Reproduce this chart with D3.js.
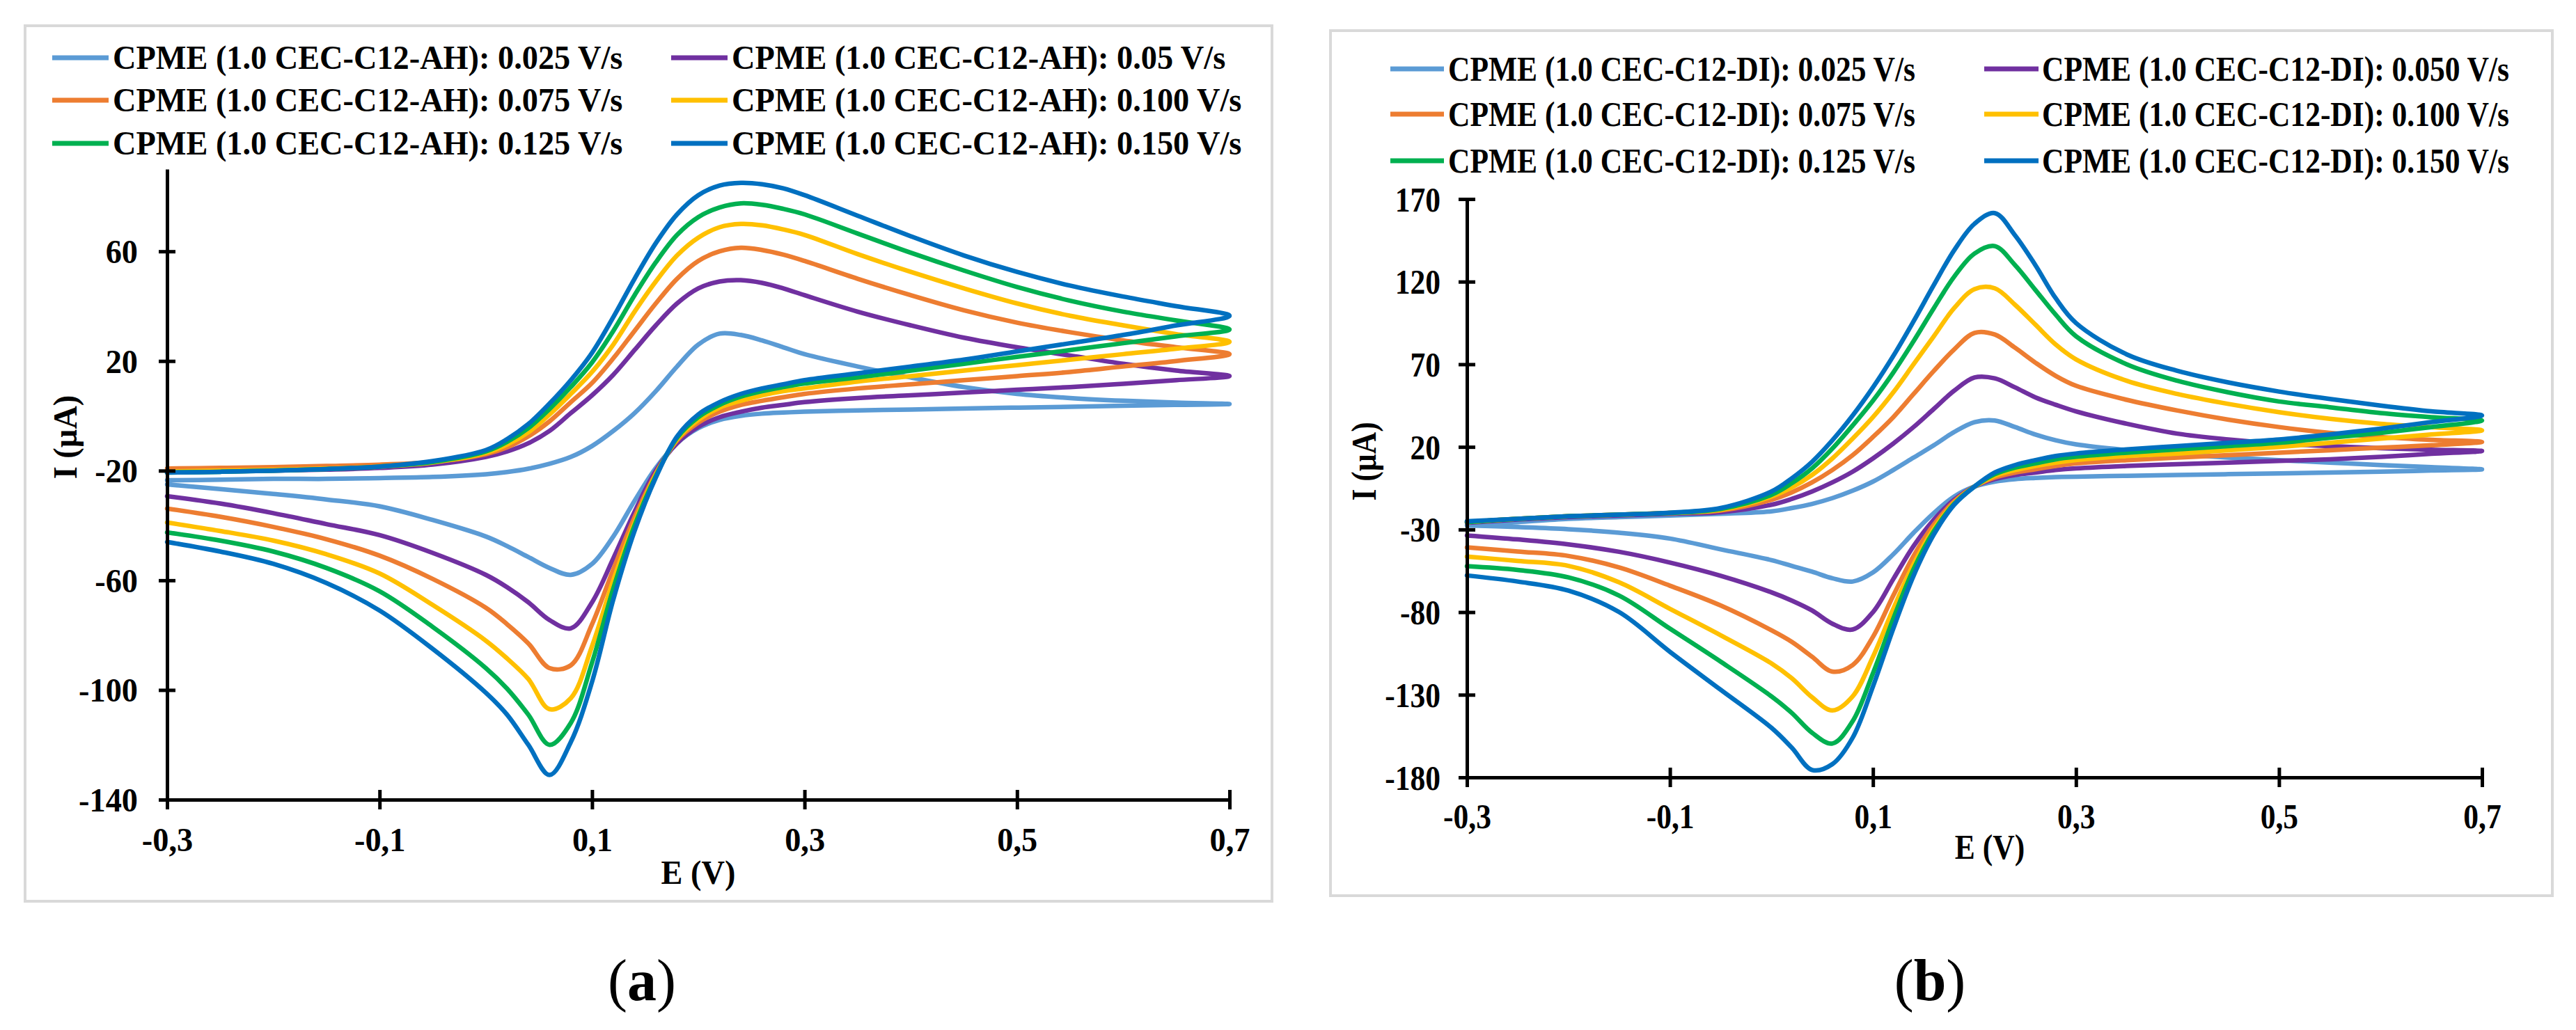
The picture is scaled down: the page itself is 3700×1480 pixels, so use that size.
<!DOCTYPE html>
<html>
<head>
<meta charset="utf-8">
<script src="https://cdn.jsdelivr.net/npm/d3@7"></script>
<style>
    body { margin: 0; background: #fff; }
    text { font-family: "Liberation Serif", "Times New Roman", serif; }
</style>
</head>
<body>
<script>
// potential grid (V), shared by every scan branch
const potential = [-0.30, -0.25, -0.20, -0.15, -0.10, -0.05, 0.00, 0.02, 0.04, 0.06, 0.08, 0.10, 0.12, 0.14, 0.16, 0.18,
    0.20, 0.22, 0.24, 0.26, 0.28, 0.30, 0.35, 0.40, 0.45, 0.50, 0.55, 0.60, 0.65, 0.70];

const colors = ["#5b9bd5", "#7030a0", "#ed7d31", "#ffc000", "#00b050", "#0070c0"];

const namesA = [
    "CPME (1.0 CEC-C12-AH): 0.025 V/s", "CPME (1.0 CEC-C12-AH): 0.05 V/s",
    "CPME (1.0 CEC-C12-AH): 0.075 V/s", "CPME (1.0 CEC-C12-AH): 0.100 V/s",
    "CPME (1.0 CEC-C12-AH): 0.125 V/s", "CPME (1.0 CEC-C12-AH): 0.150 V/s",
];
const namesB = [
    "CPME (1.0 CEC-C12-DI): 0.025 V/s", "CPME (1.0 CEC-C12-DI): 0.050 V/s",
    "CPME (1.0 CEC-C12-DI): 0.075 V/s", "CPME (1.0 CEC-C12-DI): 0.100 V/s",
    "CPME (1.0 CEC-C12-DI): 0.125 V/s", "CPME (1.0 CEC-C12-DI): 0.150 V/s",
];

const xTicks = [-0.3, -0.1, 0.1, 0.3, 0.5, 0.7];
const yTicksA = [-140, -100, -60, -20, 20, 60];
const yTicksB = [-180, -130, -80, -30, 20, 70, 120, 170];

// (a) forward scan, I (uA)
const a025Fwd = [-23.5, -23.3, -23, -23, -22.7, -22.3, -21.3, -20.5, -19.3, -17.5, -15, -11, -5.5, 1, 9, 18, 26, 30, 29.5, 27.5, 25, 22.5, 18, 14, 10.5, 8, 6.5, 5.5, 4.8, 4.3];
const a050Fwd = [-20.5, -20.3, -20, -19.6, -19, -17.8, -15, -13, -10, -5.5, 1, 7.5, 15, 24, 33, 41, 46.5, 49, 49.5, 48.5, 46.5, 44, 38, 33, 28.5, 25, 22, 19, 16.5, 14.5];
const a075Fwd = [-19.2, -19, -18.7, -18.3, -17.8, -16.8, -14, -11.5, -7.5, -2, 5, 12, 21, 31, 41, 50, 56.5, 60, 61.3, 60.5, 58.8, 56.5, 50, 44, 38.5, 34, 30.5, 27.5, 25, 22.5];
const a100Fwd = [-20.3, -20, -19.7, -19.2, -18.5, -17, -13.5, -10.5, -6, 0.5, 8, 16, 26, 38, 49, 58.5, 65, 68.8, 70, 69.5, 68, 66, 59, 52.5, 46.5, 41, 36.5, 33, 29.8, 27];
const a125Fwd = [-20.7, -20.4, -20, -19.4, -18.5, -16.8, -13, -9.5, -4.5, 2.5, 10.5, 19.5, 31, 44, 56, 66, 72.5, 76, 77.5, 77, 75.5, 73.5, 66.5, 59.5, 53, 47, 42, 38, 34.8, 31.5];
const a150Fwd = [-20.7, -20.4, -20, -19.4, -18.5, -16.5, -12.5, -8.5, -3, 4.5, 13, 23, 36, 50, 63, 73.5, 80.5, 84, 85, 84.5, 83, 80.5, 73, 65.5, 58.5, 52.5, 47.5, 43.5, 40, 36.5];

// (a) reverse scan, same grid
const a025Rev = [-25, -26.7, -28.5, -30.5, -33, -38, -44, -47.5, -51.5, -55.5, -58, -54, -44, -31, -19, -10, -4.5, -1.5, 0, 0.8, 1.2, 1.5, 2, 2.3, 2.7, 3, 3.3, 3.7, 4, 4.3];
const a050Rev = [-29.3, -32, -35.5, -39.5, -43.5, -50, -58, -62.5, -68, -74.5, -77.5, -68, -52, -35, -20, -10, -4, -0.5, 1.5, 3, 4, 5, 6.5, 7.5, 8.5, 9.5, 10.5, 11.7, 13, 14.5];
const a075Rev = [-33.8, -36.8, -40.5, -45, -51, -59.5, -70, -76, -83, -92, -91, -76, -56, -37, -21, -9, -2.5, 1.5, 4, 5.5, 6.8, 8, 10, 11.5, 13, 14.5, 16, 18, 20, 22.5];
const a100Rev = [-38.9, -42, -45.5, -50.5, -57.5, -69, -82, -88.5, -96, -107, -103, -84, -60, -39, -21.5, -8.5, -1.5, 3, 5.5, 7.5, 9, 10, 12.5, 14.5, 16.5, 18.5, 20.5, 22.5, 24.5, 27];
const a125Rev = [-42.5, -45.5, -49.5, -55.5, -64, -77, -92, -99.5, -109, -120, -112, -90, -63, -40, -22, -8, -0.5, 4, 7, 9, 10.5, 11.8, 14, 16.5, 19, 21.5, 24, 26.5, 29, 31.5];
const a150Rev = [-46, -49.5, -54, -61, -71, -85, -101, -109, -120, -131, -119, -97, -67, -42, -22.5, -7.5, 0.5, 5, 8, 10, 11.5, 13, 15.5, 18, 20.5, 23.5, 26.5, 29.5, 33, 36.5];

// (b) forward scan
const b025Fwd = [-27.5, -25.5, -23.5, -22.5, -21.5, -20.5, -19, -17, -14.5, -11, -6.5, -1, 6, 13.5, 21, 29, 35, 36, 32, 27.5, 24, 21.5, 18, 15.5, 13.5, 12, 10.5, 9, 7.7, 6.4];
const b050Fwd = [-26, -24, -22.5, -21.5, -20.5, -19.5, -15, -11.5, -7, -1.5, 5, 13, 22, 32, 43, 54, 62, 61.5, 56, 50, 45.5, 41.5, 34, 28, 24.5, 22, 20.5, 19.2, 18.3, 17.5];
const b075Fwd = [-25.5, -23.5, -22, -21, -20, -18.5, -12, -7.5, -1.5, 6, 15, 26, 38, 52, 66, 79, 89, 88, 80, 71, 63, 57, 48.5, 42, 36.5, 32, 28.5, 26, 24.3, 23];
const b100Fwd = [-25.5, -23.5, -22, -21, -20, -18, -10, -4.5, 3, 13, 25, 38, 53, 70, 87, 104, 115.5, 116, 106, 94, 82, 73, 60, 52, 46, 41, 37, 34, 32, 30];
const b125Fwd = [-25.5, -23.5, -22, -21, -20, -17.5, -9, -2, 7, 19, 33, 48, 65, 84, 104, 123, 137, 141.5, 130, 115, 100, 87, 70, 60, 53, 47.5, 44, 40.5, 38, 36];
const b150Fwd = [-25, -23.5, -22, -21, -19.8, -17, -7, 1, 11, 24, 39, 56, 75, 96, 118, 139, 155, 161.5, 148, 130, 110, 95, 76, 66, 59, 53.5, 49, 45, 41.5, 39];

// (b) reverse scan
const b025Rev = [-27.5, -28.5, -29.8, -32, -35.5, -42, -48.5, -52, -55.5, -59.5, -61.5, -56, -45, -32, -20, -10, -4, -1, 0.5, 1.2, 1.7, 2, 2.5, 3, 3.5, 4, 4.5, 5, 5.7, 6.4];
const b050Rev = [-33.6, -36, -39, -43.5, -50, -58, -68, -73, -79, -87, -90.5, -80, -60, -40, -24, -12, -4, 0.5, 3, 4.5, 6, 7, 8.5, 9.5, 10.5, 11.5, 12.5, 14, 15.8, 17.5];
const b075Rev = [-40.8, -43.3, -46, -53, -64, -76, -91, -98, -107, -116, -112, -95, -70, -46, -27, -13, -4, 1.5, 4.5, 6.5, 8.5, 10, 12, 13.5, 15, 16.5, 18, 19.5, 21, 23];
const b100Rev = [-46.4, -49, -52, -62, -78, -94, -111, -120, -131.5, -139.5, -131, -107, -78, -51, -29.5, -14, -4, 2.5, 6, 8.5, 10.5, 12, 14.5, 16, 18, 20, 22.5, 25, 27.5, 30];
const b125Rev = [-52.2, -54.5, -59, -70, -90, -110, -131, -141, -153, -159.5, -146, -117, -84, -54, -31, -14.5, -4, 3.5, 7.5, 10, 12.5, 14, 16.5, 18.5, 20.5, 22.5, 25.5, 28.5, 32, 36];
const b150Rev = [-57.8, -61.5, -67, -80, -104, -127, -150, -162, -175.5, -172, -156, -125, -90, -58, -33, -15, -4, 4.5, 9, 12, 14.5, 16, 18.5, 20.5, 22.5, 24.5, 27.5, 31, 35, 39];

// one loop per scan rate: forward to 0.7 V, then back to -0.3 V
const loop = (fwd, rev) => {
    const out = potential.map((e, i) => ({ e, i: fwd[i] }));
    for (let k = potential.length - 2; k >= 0; k--) out.push({ e: potential[k], i: rev[k] });
    return out;
};

const squeeze = (sel, sx) => sel.each(function () {
    const t = d3.select(this);
    const x = +t.attr("x") || 0;
    const y = +t.attr("y") || 0;
    const r = t.attr("data-rot");
    t.attr("transform", `translate(${x},${y})${r ? ` rotate(${r})` : ""} scale(${sx},1)`)
        .attr("x", 0)
        .attr("y", 0);
});

const W = 3700;
const H = 1480;

const svg = d3.select("body").append("svg")
    .attr("width", W)
    .attr("height", H);

const drawPanel = (p) => {
    const g = svg.append("g");

    g.append("rect")
        .attr("x", p.frame[0])
        .attr("y", p.frame[1])
        .attr("width", p.frame[2] - p.frame[0])
        .attr("height", p.frame[3] - p.frame[1])
        .attr("fill", "#fff")
        .attr("stroke", "#d9d9d9")
        .attr("stroke-width", 4);

    const x = d3.scaleLinear().domain([-0.3, 0.7]).range([p.x0, p.x1]);
    const y = d3.scaleLinear().domain(p.yDomain).range([p.yBot, p.yTop]);

    const line = d3.line()
        .x((d) => x(d.e))
        .y((d) => y(d.i))
        .curve(d3.curveCatmullRom.alpha(0.5));

    p.series.forEach((s, k) => {
        g.append("path")
            .datum(loop(s[0], s[1]))
            .attr("fill", "none")
            .attr("stroke", colors[k])
            .attr("stroke-width", 6.5)
            .attr("stroke-linejoin", "round")
            .attr("stroke-linecap", "round")
            .attr("d", line);
    });

    const yAxis = g.append("g")
        .attr("transform", `translate(${p.x0},0)`)
        .call(d3.axisLeft(y).tickValues(p.yTicks).tickSize(12).tickSizeOuter(0).tickFormat((v) => String(v)));
    yAxis.selectAll(".tick line").attr("x1", 12);
    yAxis.selectAll(".tick text")
        .attr("x", -p.yLabelGap)
        .attr("y", p.fs * 0.34)
        .attr("dy", null)
        .call(squeeze, p.sx);

    const xAxis = g.append("g")
        .attr("transform", `translate(0,${p.yBot})`)
        .call(d3.axisBottom(x).tickValues(xTicks).tickSize(14).tickSizeOuter(0)
            .tickFormat((v) => v.toFixed(1).replace(".", ",")));
    xAxis.selectAll(".tick line").attr("y1", -14);
    xAxis.selectAll(".tick text")
        .attr("y", p.xLabelGap)
        .attr("dy", null)
        .call(squeeze, p.sx);

    [xAxis, yAxis].forEach((a) => {
        a.attr("font-family", null).attr("font-size", p.fs).attr("font-weight", "bold");
        a.selectAll("path, line").attr("stroke", "#000").attr("stroke-width", 5);
        a.selectAll("text").attr("fill", "#000");
    });

    g.append("text")
        .attr("x", p.xTitle[0])
        .attr("y", p.xTitle[1])
        .attr("text-anchor", "middle")
        .attr("font-size", p.fs)
        .attr("font-weight", "bold")
        .text("E (V)")
        .call(squeeze, p.sx);

    g.append("text")
        .attr("x", p.yTitle[0])
        .attr("y", p.yTitle[1])
        .attr("data-rot", -90)
        .attr("text-anchor", "middle")
        .attr("font-size", p.fs)
        .attr("font-weight", "bold")
        .text("I (µA)")
        .call(squeeze, p.sx);

    // legend: two columns, three rows
    p.names.forEach((name, k) => {
        const col = p.legendCols[k % 2];
        const row = p.legendRows[Math.floor(k / 2)];
        g.append("line")
            .attr("x1", col[0])
            .attr("x2", col[1])
            .attr("y1", row)
            .attr("y2", row)
            .attr("stroke", colors[k])
            .attr("stroke-width", 7);
        g.append("text")
            .attr("x", col[2])
            .attr("y", row + p.fs * 0.33)
            .attr("font-size", p.fs)
            .attr("font-weight", "bold")
            .text(name)
            .call(squeeze, p.sx);
    });

    const cap = g.append("text")
        .attr("x", p.caption[1])
        .attr("y", 1437)
        .attr("text-anchor", "middle")
        .attr("font-size", 84);
    cap.append("tspan").text("(");
    cap.append("tspan").attr("font-weight", "bold").text(p.caption[0]);
    cap.append("tspan").text(")");
};

drawPanel({
    frame: [36, 37, 1827, 1295],
    x0: 240, x1: 1766,
    yTop: 243, yBot: 1149,
    yDomain: [-140, 90],
    yTicks: yTicksA,
    fs: 48, sx: 0.965,
    yLabelGap: 42, xLabelGap: 74,
    names: namesA,
    series: [[a025Fwd, a025Rev], [a050Fwd, a050Rev], [a075Fwd, a075Rev],
        [a100Fwd, a100Rev], [a125Fwd, a125Rev], [a150Fwd, a150Rev]],
    legendCols: [[75, 156, 162], [964, 1045, 1051]],
    legendRows: [83, 144, 206],
    xTitle: [1003, 1270],
    yTitle: [110, 628],
    caption: ["a", 922],
});

drawPanel({
    frame: [1911, 44, 3666, 1287],
    x0: 2107, x1: 3565,
    yTop: 286, yBot: 1117,
    yDomain: [-180, 170],
    yTicks: yTicksB,
    fs: 50, sx: 0.87,
    yLabelGap: 38, xLabelGap: 73,
    names: namesB,
    series: [[b025Fwd, b025Rev], [b050Fwd, b050Rev], [b075Fwd, b075Rev],
        [b100Fwd, b100Rev], [b125Fwd, b125Rev], [b150Fwd, b150Rev]],
    legendCols: [[1997, 2074, 2080], [2850, 2928, 2933]],
    legendRows: [99, 164, 231],
    xTitle: [2858, 1234],
    yTitle: [1976, 663],
    caption: ["b", 2772],
});
</script>
</body>
</html>
